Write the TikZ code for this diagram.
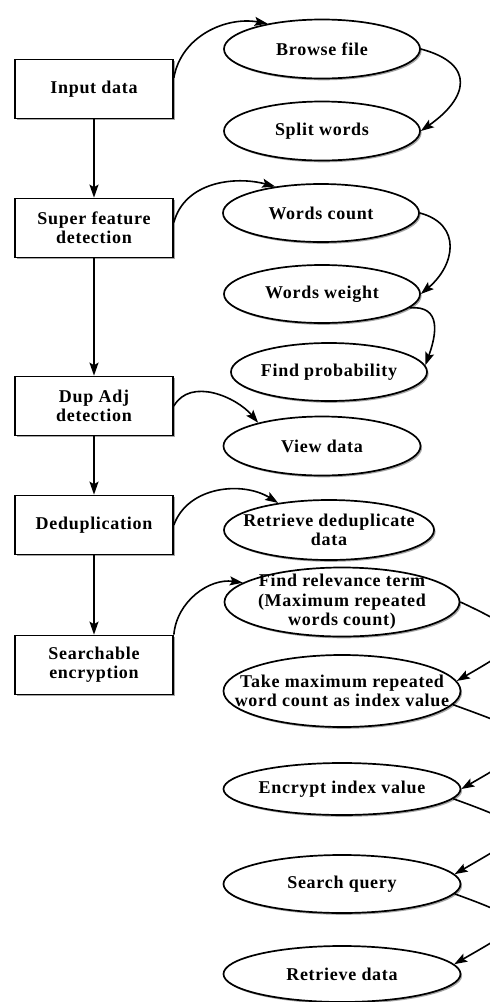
\documentclass[tikz,border=0pt]{standalone}
\usepackage{fontspec}
\setmainfont{Liberation Serif}[LetterSpace=4]
\usetikzlibrary{shapes.geometric,arrows.meta,shadows}
\begin{document}
\begin{tikzpicture}[x=1pt,y=-1pt,
  shd/.style={drop shadow={shadow xshift=1.6pt,shadow yshift=-1.8pt,fill=black,opacity=.35}},
  procbox/.style={draw,line width=1.7pt,fill=white,minimum width=158pt,minimum height=59pt,inner sep=0pt,shd,
    align=center,font=\bfseries\fontsize{18}{19}\selectfont},
  ell/.style={ellipse,draw,line width=1.7pt,fill=white,inner sep=0pt,shd},
  lbl/.style={align=center,inner sep=0pt,font=\bfseries\fontsize{18}{19.5}\selectfont},
  arr/.style={line width=1.6pt,-{Stealth[length=13pt,width=9pt,inset=2.5pt]}}]
\useasboundingbox[fill=white] (0,0) rectangle (490,1002);
% left column
\node[procbox] (in) at (94,89) {Input data};
\node[procbox] (sf) at (94,228) {Super feature\\detection};
\node[procbox] (da) at (94,406) {Dup Adj\\detection};
\node[procbox] (dd) at (94,525) {Deduplication};
\node[procbox] (se) at (94,665) {Searchable\\encryption};
% ellipses
\node[ell,minimum width=196pt,minimum height=59pt] (bf) at (322,49) {};
\node[lbl] (bfT) at (bf) {Browse file};
\node[ell,minimum width=196pt,minimum height=59pt] (sw) at (322,131) {};
\node[lbl] (swT) at (sw) {Split words};
\node[ell,minimum width=196pt,minimum height=58pt] (wc) at (321,213) {};
\node[lbl] (wcT) at (wc) {Words count};
\node[ell,minimum width=196pt,minimum height=58pt] (ww) at (322,294) {};
\node[lbl] (wwT) at (ww) {Words weight};
\node[ell,minimum width=196pt,minimum height=58pt] (fp) at (329,372) {};
\node[lbl] (fpT) at (fp) {Find probability};
\node[ell,minimum width=197pt,minimum height=59pt] (vd) at (322,446) {};
\node[lbl] (vdT) at (vd) {View data};
\node[ell,minimum width=210pt,minimum height=60pt] (rd) at (329,530) {};
\node[lbl] (rdT) at (rd) {Retrieve deduplicate\\data};
\node[ell,minimum width=235pt,minimum height=69pt] (fr) at (342,602) {};
\node[lbl] (frT) at (fr) {Find relevance term\\(Maximum repeated\\words count)};
\node[ell,minimum width=237pt,minimum height=72pt] (tm) at (342,691) {};
\node[lbl] (tmT) at (tm) {Take maximum repeated\\word count as index value};
\node[ell,minimum width=237pt,minimum height=52pt] (ec) at (342,789) {};
\node[lbl] (ecT) at (ec) {Encrypt index value};
\node[ell,minimum width=237pt,minimum height=58pt] (sq) at (342,884) {};
\node[lbl] (sqT) at (sq) {Search query};
\node[ell,minimum width=237pt,minimum height=56pt] (rt) at (342,974) {};
\node[lbl] (rtT) at (rt) {Retrieve data};
% vertical arrows
\draw[arr] (in.south) -- (sf.north);
\draw[arr] (sf.south) -- (da.north);
\draw[arr] (da.south) -- (dd.north);
\draw[arr] (dd.south) -- (se.north);
% box to ellipse curves
\draw[arr] (in.8) to[out=80,in=170] (bf.155);
\draw[arr] (sf.4) to[out=75,in=165] (wc.150);
\draw[arr] (da.east) to[out=60,in=130] (vd.160);
\draw[arr] (dd.east) to[out=70,in=148] (rd.152);
\draw[arr] (se.north east) to[out=85,in=172] (fr.169);
% ellipse to ellipse curves
\draw[arr] (bf.east) to[out=-15,in=35,looseness=1.8] (sw.east);
\draw[arr] (wc.east) to[out=-15,in=40,looseness=1.4] (ww.east);
\draw[arr] (ww.-9) to[out=5,in=70,looseness=1.4] (fp.4);
\draw[arr] (fr.east) to[out=-25,in=30,looseness=2.6] (tm.5);
\draw[arr] (tm.-7) to[out=-20,in=30,looseness=3] (ec.east);
\draw[arr] (ec.-5) to[out=-20,in=30,looseness=3] (sq.5);
\draw[arr] (sq.-5) to[out=-20,in=30,looseness=3] (rt.5);
\end{tikzpicture}
\end{document}
